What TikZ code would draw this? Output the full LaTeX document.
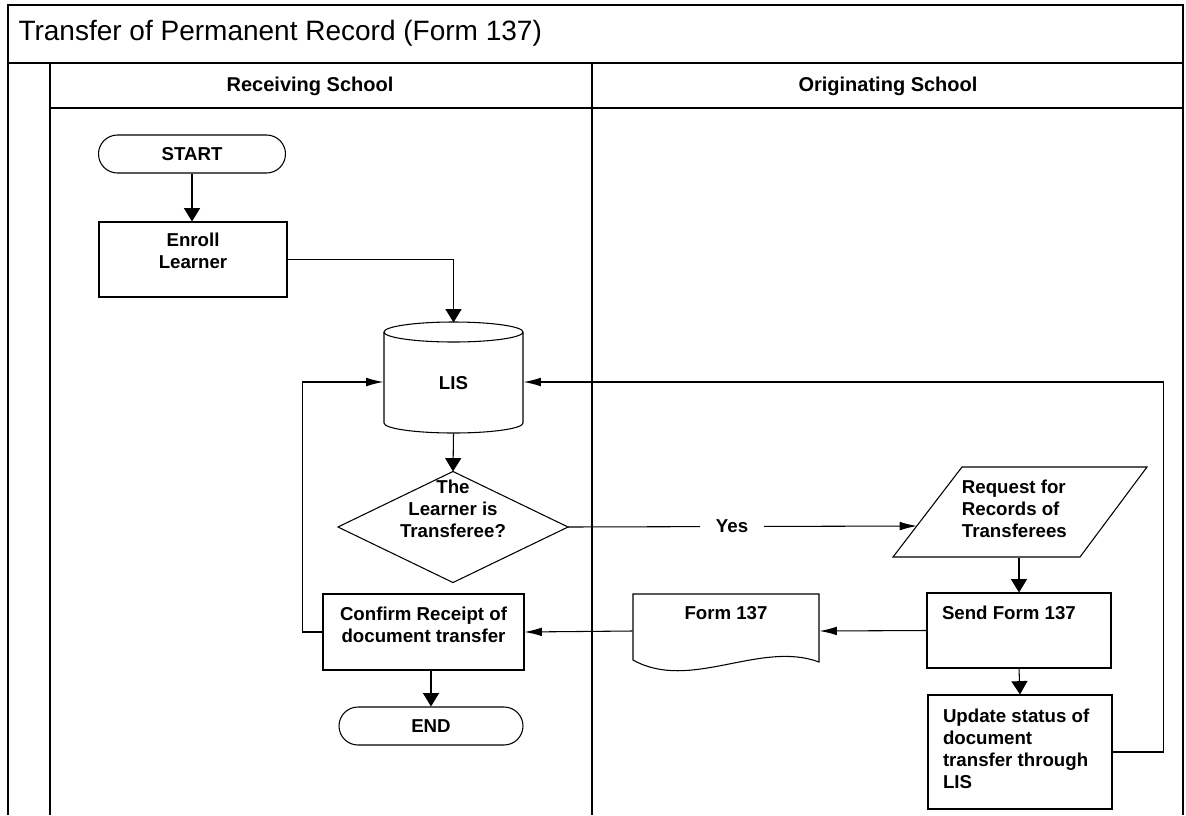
\documentclass[tikz,border=0pt]{standalone}
\usepackage{fontspec}
\setmainfont{Liberation Sans}
\usetikzlibrary{arrows.meta}
\begin{document}
\begin{tikzpicture}[x=0.75pt,y=-0.75pt,
  line width=0.8pt,
  frame/.style={line width=1pt},
  vtip/.style={-{Triangle[length=10pt,width=12pt]}},
  htip/.style={-{Latex[length=13pt,width=6.5pt]}},
  nodefont/.style={font=\fontsize{14}{16.5}\selectfont\bfseries},
  proc/.style={draw, inner sep=0pt, nodefont},
  term/.style={draw, rounded corners=14.25pt, minimum height=28.5pt, inner sep=0pt, nodefont},
  ghost/.style={inner sep=0pt, nodefont},
]
\useasboundingbox (0,0) rectangle (1186,815);
\fill[white] (0,0) rectangle (1186,815);
% frame
\draw[frame] (8,815) -- (8,5) -- (1183,5) -- (1183,815);
\draw[frame] (8,63) -- (1183,63);
\draw[frame] (50,63) -- (50,815);
\draw[frame] (592,63) -- (592,815);
\draw[frame] (50,108) -- (1183,108);
\node[anchor=west, inner sep=0pt, font=\fontsize{21}{25}\selectfont] (title) at (18,33) {Transfer of Permanent Record (Form 137)};
\node[font=\fontsize{15}{18}\selectfont\bfseries] (recv) at (310,86) {Receiving School};
\node[font=\fontsize{15}{18}\selectfont\bfseries] (orig) at (888,86) {Originating School};
% nodes
\node[term, minimum width=140.25pt] (start) at (192,154) {START};
\node[proc] (enroll) at (193,259.5) {\parbox[c][56.25pt][t]{141pt}{\centering\rule{0pt}{18pt}Enroll\\Learner}};
\node[ghost, minimum width=104.25pt, minimum height=82.5pt] (lis) at (453.5,378) {\raisebox{0pt}[17.5pt][0pt]{LIS}};
\draw (384,332) -- (384,423) arc[start angle=180, end angle=360, x radius=52.125pt, y radius=7.5pt] -- (523,332);
\draw (453.5,332) ellipse [x radius=52.125pt, y radius=7.5pt];
\node[ghost, minimum width=171.75pt, minimum height=82.5pt] (dec) at (453,527) {};
\draw (dec.north) -- (dec.east) -- (dec.south) -- (dec.west) -- cycle;
\node[ghost, align=center] (dectext) at (453,509) {The\\Learner is\\Transferee?};
\node[proc] (confirm) at (423.5,632) {\parbox[c][57pt][t]{150.75pt}{\centering\rule{0pt}{19.5pt}Confirm Receipt of\\document transfer}};
\node[term, minimum width=138pt] (endn) at (431,726) {END};
\node[ghost, minimum width=139.5pt, minimum height=55.5pt] (form) at (726,631) {\parbox[c][55.5pt][t]{139.5pt}{\centering\rule{0pt}{18.75pt}Form 137}};
\draw (633,594) -- (819,594) -- (819,662) .. controls (760,640) and (690,692) .. (633,660) -- cycle;
\node[proc] (send) at (1019,630.5) {\parbox[c][56.25pt][t]{138pt}{\raggedright\leftskip=11.25pt\rule{0pt}{19.5pt}Send Form 137}};
\node[proc] (update) at (1020,752) {\parbox[c][85.5pt][t]{138pt}{\raggedright\leftskip=11.25pt\rule{0pt}{20.25pt}Update status of\\document\\transfer through\\LIS}};
\node[ghost, minimum width=140.25pt, minimum height=67.5pt] (req) at (1020,512) {\parbox[c][67.5pt][t]{140.25pt}{\raggedright\leftskip=26.6pt\rule{0pt}{19.5pt}Request for\\Records of\\Transferees}};
\draw (962,467) -- (1147,467) -- (1080,557) -- (893,557) -- cycle;
\coordinate (reqin) at (917,526);
% connectors
\draw[vtip] (start.south) -- (start.south |- enroll.north);
\draw[vtip] (enroll.east) -| (lis.north);
\draw[vtip] (lis.south) -- (dec.north);
\draw[htip] (dec.east) -- node[pos=0.47, fill=white, nodefont, inner xsep=12pt, inner ysep=2pt] (yes) {Yes} (reqin);
\draw[vtip] (send.north |- req.south) -- (send.north);
\draw[htip] (send.west) -- (form.east);
\draw[htip] (form.west) -- (confirm.east);
\draw[vtip] (send.south) -- (update.north);
\draw[vtip] (endn.north |- confirm.south) -- (endn.north);
\draw[htip] (confirm.west) -- ++(-20,0) |- ([yshift=-3pt]lis.west);
\draw[htip] (update.east) -- ++(51,0) |- ([yshift=-3pt]lis.east);
\end{tikzpicture}
\end{document}
